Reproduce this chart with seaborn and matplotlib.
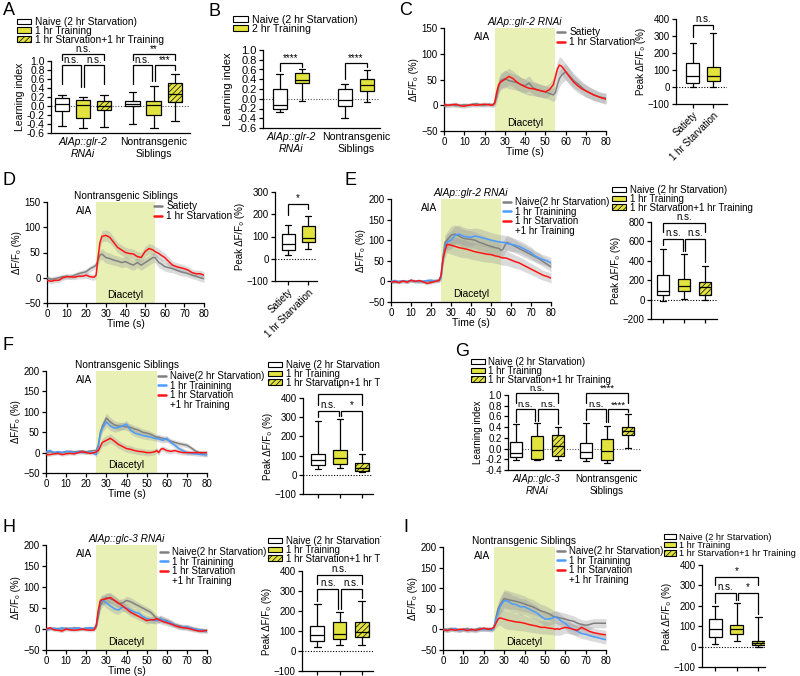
import numpy as np
import pandas as pd
import matplotlib
matplotlib.use("Agg")
import matplotlib.pyplot as plt
import seaborn as sns
from matplotlib.patches import Patch, Rectangle
from matplotlib.lines import Line2D
from matplotlib.colors import to_rgba

sns.set_theme(style="ticks")
plt.rcParams["font.family"] = ["Liberation Sans", "DejaVu Sans"]
plt.rcParams.update({
    "axes.linewidth": 0.9, "xtick.major.width": 0.9, "ytick.major.width": 0.9,
    "xtick.major.size": 3, "ytick.major.size": 3,
    "xtick.major.pad": 1.5, "ytick.major.pad": 1.5,
    "hatch.linewidth": 0.5, "axes.labelpad": 1.5,
    "text.color": "black", "axes.labelcolor": "black", "axes.edgecolor": "black",
    "xtick.color": "black", "ytick.color": "black",
})

# ---------------- data ----------------
TIME = [0, 2, 4, 6, 8, 10, 12, 14, 16, 18, 20, 22, 24,
        25, 26, 27, 28,
        30, 32, 34, 36, 38, 40, 42, 44, 46, 48, 50, 52, 54,
        55, 56, 57, 58,
        60, 62, 64, 66, 68, 70, 72, 74, 76, 78, 80]

C_SATIETY = [-2, 0, 1, -1, 0, 1, 0, 2, 3, 1, 0, 2, 1, 3, 15, 35, 48,
             52, 48, 46, 44, 40, 38, 43, 34, 30, 28, 26, 23, 20, 25, 40, 52, 58,
             65, 57, 48, 42, 35, 28, 24, 20, 17, 15, 14]
C_STARV = [2, 0, 1, 2, -1, -2, 0, 1, 0, 1, 2, 1, 0, 5, 25, 40, 45,
           50, 56, 52, 45, 40, 36, 33, 32, 30, 28, 26, 30, 40, 55, 70, 78, 76,
           66, 55, 45, 38, 32, 28, 24, 20, 17, 14, 12]
C_SEM = [4, 4, 4, 4, 4, 4, 4, 4, 4, 4, 4, 4, 4, 6, 10, 14, 15,
         16, 16, 15, 15, 14, 14, 14, 13, 13, 12, 12, 12, 13, 14, 15, 16, 16,
         16, 15, 14, 13, 12, 12, 11, 11, 10, 10, 10]

D_SATIETY = [0, -3, -2, 0, 2, 3, 2, 5, 8, 10, 12, 18, 22, 25, 35, 45, 47,
             40, 38, 35, 33, 30, 32, 28, 25, 30, 25, 30, 35, 40, 40, 35, 30, 28,
             22, 20, 18, 15, 12, 10, 8, 5, 3, 0, -2]
D_STARV = [-5, -7, -5, -5, 0, 2, 2, 1, 3, 3, 5, 2, 1, 5, 40, 70, 82,
           84, 80, 70, 60, 55, 50, 48, 47, 42, 40, 52, 58, 55, 52, 50, 48, 45,
           40, 32, 25, 22, 20, 18, 15, 10, 8, 8, 5]
D_SEM = [5, 5, 5, 5, 5, 5, 5, 5, 5, 5, 6, 6, 6, 7, 9, 10, 11,
         11, 11, 10, 10, 10, 10, 10, 10, 10, 10, 10, 10, 10, 10, 10, 10, 10,
         9, 9, 8, 8, 8, 7, 7, 7, 7, 7, 7]

E_NAIVE = [0, -2, 0, 1, -1, 2, 0, 1, 0, 1, 0, 2, 3, 10, 60, 95, 100,
           112, 115, 110, 105, 103, 102, 100, 95, 92, 88, 85, 82, 80, 75, 78, 88, 95,
           90, 85, 80, 75, 70, 65, 60, 55, 48, 42, 35]
E_TRAIN = [0, 2, -1, 1, 0, 2, 1, -1, 0, 2, 3, 1, 2, 8, 50, 85, 95,
           100, 112, 115, 110, 108, 107, 110, 108, 105, 103, 100, 98, 96, 95, 95, 94, 92,
           90, 88, 85, 80, 75, 70, 62, 57, 53, 50, 45]
E_STARV = [-2, 0, -3, 1, -2, 3, 0, 2, -1, -5, -3, 0, 2, 15, 55, 75, 90,
           88, 85, 82, 80, 78, 75, 72, 70, 68, 66, 65, 62, 60, 58, 57, 57, 56,
           52, 48, 45, 40, 35, 30, 25, 20, 15, 12, 8]
E_SEM = [4, 4, 4, 4, 4, 4, 4, 4, 4, 4, 4, 4, 4, 8, 14, 18, 20,
         22, 22, 22, 22, 21, 21, 20, 20, 20, 19, 19, 18, 18, 18, 18, 18, 18,
         17, 16, 15, 15, 14, 14, 13, 13, 12, 12, 12]

F_NAIVE = [0, 2, 0, 1, 0, 2, 3, 2, 3, 4, 2, 4, 5, 5, 20, 50, 65,
           85, 75, 68, 65, 65, 63, 62, 58, 55, 50, 48, 45, 40, 38, 38, 36, 35,
           32, 28, 25, 22, 20, 18, 12, 5, 0, -3, -5]
F_TRAIN = [2, 5, 0, 2, 0, 3, 2, 0, 2, 0, 0, 2, -3, -5, 15, 45, 60,
           75, 65, 60, 62, 65, 70, 55, 48, 45, 42, 40, 38, 35, 35, 33, 32, 30,
           35, 25, 18, 10, 5, 0, -2, -3, -4, -5, -5]
F_STARV = [-5, -5, -3, -2, -5, -3, -2, -3, 0, 2, 0, -2, 0, 2, 5, 15, 25,
           30, 35, 28, 20, 15, 10, 8, 5, 3, 2, 0, 0, 2, 5, 0, 8, 10,
           5, 3, 5, 2, 0, 0, 0, 0, 0, 0, 0]
F_SEM = [4, 4, 4, 4, 4, 4, 4, 4, 4, 4, 4, 4, 4, 5, 7, 9, 10,
         12, 11, 10, 10, 9, 9, 9, 8, 8, 8, 8, 7, 7, 7, 7, 7, 7,
         7, 6, 6, 6, 6, 6, 5, 5, 5, 5, 5]

H_NAIVE = [0, 2, 0, 1, 0, 2, 0, 3, 1, 0, 2, 1, 2, 5, 30, 55, 65,
           75, 72, 68, 60, 62, 68, 65, 60, 55, 50, 45, 40, 30, 25, 22, 25, 22,
           20, 15, 10, 8, 5, 5, 2, 0, -2, -3, -5]
H_TRAIN = [-2, 0, 2, 0, 3, 0, 2, 0, 3, 0, 2, 3, 2, 8, 40, 65, 70,
           62, 55, 48, 45, 52, 50, 45, 40, 38, 30, 25, 22, 20, 20, 22, 25, 22,
           18, 15, 10, 5, 5, 5, 2, 0, -2, -3, -5]
H_STARV = [0, 3, -2, -3, -5, 0, -2, -3, -2, 0, -2, -3, -2, 10, 45, 68, 70,
           72, 75, 68, 62, 55, 48, 40, 35, 30, 25, 20, 22, 22, 25, 22, 20, 18,
           15, 12, 8, 5, 3, 2, 0, -3, -5, -5, -3]
H_SEM = [4, 4, 4, 4, 4, 4, 4, 4, 4, 4, 4, 4, 4, 5, 8, 10, 11,
         12, 12, 11, 10, 10, 10, 10, 9, 9, 8, 8, 8, 8, 8, 8, 8, 8,
         7, 7, 6, 6, 6, 6, 6, 5, 5, 5, 5]

I_NAIVE = [0, 0, 2, 0, -2, 0, 2, -2, 0, 3, 0, 2, 0, 5, 30, 50, 60,
           75, 72, 70, 68, 65, 62, 58, 55, 50, 45, 42, 38, 32, 30, 30, 28, 27,
           25, 22, 20, 15, 12, 10, 12, 15, 15, 15, 15]
I_TRAIN = [0, -2, 0, 2, -3, 0, -2, 0, -3, 0, 0, 0, -2, 5, 25, 40, 55,
           70, 68, 62, 60, 55, 55, 50, 45, 40, 32, 25, 25, 28, 30, 28, 25, 20,
           15, 5, 0, -5, -10, -12, -15, -18, -20, -23, -25]
I_STARV = [0, -3, 0, -2, 0, 0, -3, 0, -2, 0, 3, 0, 2, 5, 15, 25, 28,
           25, 22, 20, 18, 17, 15, 12, 10, 8, 5, 5, 3, 2, 0, 2, 0, 2,
           5, 3, 0, -2, 5, 0, -5, -8, -10, -12, -13]
I_SEM = [5, 5, 5, 5, 5, 5, 5, 5, 5, 5, 5, 5, 5, 7, 12, 16, 18,
         22, 22, 21, 20, 20, 19, 18, 18, 17, 16, 16, 15, 15, 15, 15, 15, 15,
         14, 14, 13, 13, 12, 12, 12, 11, 11, 11, 11]

# box summaries: [min, q1, median, q3, max]
A_GLR2_NAIVE = [-0.45, -0.10, 0.05, 0.17, 0.25]
A_GLR2_TRAIN = [-0.48, -0.27, 0.03, 0.13, 0.20]
A_GLR2_STARV = [-0.46, -0.08, 0.00, 0.12, 0.25]
A_NONTG_NAIVE = [-0.40, 0.00, 0.05, 0.12, 0.31]
A_NONTG_TRAIN = [-0.49, -0.20, 0.03, 0.12, 0.44]
A_NONTG_STARV = [-0.33, 0.10, 0.27, 0.52, 0.72]

B_GLR2_NAIVE = [-0.27, -0.22, -0.12, 0.20, 0.50]
B_GLR2_TRAIN = [-0.05, 0.33, 0.38, 0.52, 0.62]
B_NONTG_NAIVE = [-0.40, -0.15, -0.02, 0.20, 0.30]
B_NONTG_TRAIN = [-0.06, 0.16, 0.28, 0.40, 0.59]

C_BOX_SATIETY = [0, 22, 65, 140, 260]
C_BOX_STARV = [0, 35, 62, 115, 320]
D_BOX_SATIETY = [15, 38, 68, 110, 150]
D_BOX_STARV = [45, 75, 95, 148, 190]
E_BOX_NAIVE = [-10, 45, 85, 250, 520]
E_BOX_TRAIN = [5, 85, 140, 210, 475]
E_BOX_STARV = [0, 45, 125, 180, 345]
F_BOX_NAIVE = [30, 50, 75, 110, 280]
F_BOX_TRAIN = [38, 55, 85, 130, 290]
F_BOX_STARV = [15, 20, 35, 60, 110]

G_GLC3_NAIVE = [-0.22, -0.15, -0.08, 0.12, 0.45]
G_GLC3_TRAIN = [-0.22, -0.20, -0.03, 0.23, 0.47]
G_GLC3_STARV = [-0.22, -0.13, 0.05, 0.25, 0.41]
G_NONTG_NAIVE = [-0.24, -0.18, -0.07, 0.11, 0.48]
G_NONTG_TRAIN = [-0.26, -0.22, -0.05, 0.17, 0.43]
G_NONTG_STARV = [0.02, 0.25, 0.33, 0.40, 0.64]

H_BOX_NAIVE = [20, 50, 80, 125, 235]
H_BOX_TRAIN = [28, 62, 85, 145, 195]
H_BOX_STARV = [30, 70, 95, 145, 250]
I_BOX_NAIVE = [15, 45, 85, 135, 197]
I_BOX_TRAIN = [28, 60, 85, 105, 215]
I_BOX_STARV = [0, 10, 18, 28, 145]

COND3 = ["Naive (2 hr Starvation)", "1 hr Training", "1 hr Starvation+1 hr Training"]
COND_B = ["Naive (2 hr Starvation)", "2 hr Training"]
COND_C = ["Satiety", "1 hr Starvation"]
LINE3 = ["Naive(2 hr Starvation)", "1 hr Trainining", "1 hr Starvation", "+1 hr Training"]
GROUPS_GLR2 = ["AIAp::glr-2\nRNAi", "Nontransgenic\nSiblings"]
GROUPS_GLC3 = ["AIAp::glc-3\nRNAi", "Nontransgenic\nSiblings"]

# ---------------- styling ----------------
W, H = 800, 676
WHITE = "#ffffff"
YEL = "#e3e33f"
YEL_H = "#e3e343"
ODOR = "#e8f0b6"
BAND = "#9a9a9a"
GRAY = "#808080"
RED = "#ff1414"
BLUE = "#4a9cff"

fig = plt.figure(figsize=(8, 6.76), dpi=100)


def add_ax(x0, y0, x1, y1):
    return fig.add_axes([x0 / W, 1 - y1 / H, (x1 - x0) / W, (y1 - y0) / H])


def letter(x, y, s):
    fig.text(x / W, 1 - y / H, s, fontsize=13, va="top", ha="left")


def fig_legend(handles, labels, x, y, fs=7, ls=0.0, hl=1.4, hh=0.5, htp=0.4):
    return fig.legend(handles, labels, loc="upper left",
                      bbox_to_anchor=(x / W, 1 - y / H), bbox_transform=fig.transFigure,
                      frameon=False, fontsize=fs, borderpad=0, borderaxespad=0,
                      labelspacing=ls, handlelength=hl, handleheight=hh,
                      handletextpad=htp)


def box_handles(n):
    hs = [Patch(facecolor=WHITE, edgecolor="black", lw=0.8),
          Patch(facecolor=YEL, edgecolor="black", lw=0.8),
          Patch(facecolor=YEL, edgecolor="black", lw=0.8, hatch="//////")]
    return hs[:n]


def line_handles(colors):
    hs = [Line2D([], [], color=c, lw=1.8) for c in colors]
    hs.append(Line2D([], [], color="none"))
    return hs


def bracket(ax, x1, x2, y, l1, l2, text, fs=7, tpad=0.0):
    ax.plot([x1, x1, x2, x2], [l1, y, y, l2], color="black", lw=0.9,
            clip_on=False, solid_joinstyle="miter", zorder=5)
    ax.text((x1 + x2) / 2, y + tpad, text, ha="center", va="bottom",
            fontsize=fs, clip_on=False)


def trace_panel(rect, series, sem, ylim, yticks, title=None, italic=False,
                xlabel=True, fs=7):
    ax = add_ax(*rect)
    ax.axvspan(25, 55, color=ODOR, lw=0, zorder=0)
    e = np.asarray(sem, float)
    for vals, color in series:
        v = np.asarray(vals, float)
        ax.fill_between(TIME, v - e, v + e, color=BAND, alpha=0.35, lw=0, zorder=1)
    for vals, color in series:
        sns.lineplot(x=TIME, y=vals, color=color, lw=1.1, ax=ax, zorder=3)
    ax.set_xlim(0, 80)
    ax.set_ylim(*ylim)
    ax.set_xticks(range(0, 81, 10))
    ax.set_yticks(yticks)
    ax.tick_params(labelsize=fs)
    ax.set_ylabel("ΔF/F₀ (%)", fontsize=fs)
    if xlabel:
        ax.set_xlabel("Time (s)", fontsize=fs + 0.5, labelpad=-0.5)
    else:
        ax.set_xlabel("")
    ax.text(19, 0.96, "AIA", transform=ax.get_xaxis_transform(), ha="center",
            va="top", fontsize=fs + 0.3)
    ax.text(40, 0.075, "Diacetyl", transform=ax.get_xaxis_transform(),
            ha="center", va="center", fontsize=fs + 0.3)
    if title:
        ax.set_title(title, fontsize=fs + 0.3, style="italic" if italic else "normal",
                     pad=2)
    sns.despine(ax=ax)
    return ax


def style_hatch(ax):
    target = np.array(to_rgba(YEL_H))
    for p in ax.patches:
        if np.allclose(np.array(p.get_facecolor()), target, atol=0.004):
            p.set_hatch("//////")


def single_box(rect, names, stats, colors, ylim, yticks, xlim, width,
               fs=7, rot_labels=False):
    ax = add_ax(*rect)
    rows = []
    for n, s in zip(names, stats):
        for v in s:
            rows.append((n, v))
    df = pd.DataFrame(rows, columns=["cond", "value"])
    sns.boxplot(data=df, x="cond", y="value", hue="cond", order=names,
                hue_order=names, palette=dict(zip(names, colors)),
                whis=(0, 100), width=width, linecolor="black", linewidth=0.9,
                saturation=1, legend=False, ax=ax, dodge=False)
    style_hatch(ax)
    ax.axhline(0, ls=(0, (1, 1.5)), color="black", lw=0.8, zorder=0)
    ax.set_xlim(*xlim)
    ax.set_ylim(*ylim)
    ax.set_yticks(yticks)
    ax.set_xlabel("")
    ax.set_ylabel("Peak ΔF/F₀ (%)", fontsize=fs)
    ax.tick_params(labelsize=fs)
    ax.set_xticks(range(len(names)))
    if rot_labels:
        ax.set_xticklabels(names, rotation=45, ha="right", rotation_mode="anchor",
                           fontsize=fs)
    else:
        ax.set_xticklabels([])
    sns.despine(ax=ax)
    return ax


def group_box(rect, groups, conds, stats, colors, ylim, yticks, xlim, width, gap,
              fs=7.5, xfs=7.5, labelpad=1.5):
    ax = add_ax(*rect)
    rows = []
    for g, per in zip(groups, stats):
        for c, s in zip(conds, per):
            for v in s:
                rows.append((g, c, v))
    df = pd.DataFrame(rows, columns=["group", "cond", "value"])
    sns.boxplot(data=df, x="group", y="value", hue="cond", order=groups,
                hue_order=conds, palette=dict(zip(conds, colors)),
                whis=(0, 100), width=width, gap=gap, linecolor="black",
                linewidth=0.9, saturation=1, legend=False, ax=ax)
    style_hatch(ax)
    ax.axhline(0, ls=(0, (1, 1.5)), color="#555555", lw=0.8, zorder=0)
    ax.set_xlim(*xlim)
    ax.set_ylim(*ylim)
    ax.set_yticks(yticks)
    ax.set_yticklabels([f"{v:.1f}" for v in yticks])
    ax.set_xlabel("")
    ax.set_ylabel("Learning index", fontsize=fs, labelpad=labelpad)
    ax.tick_params(axis="y", labelsize=fs)
    ax.tick_params(axis="x", length=0, pad=3, labelsize=xfs)
    labs = ax.get_xticklabels()
    labs[0].set_style("italic")
    sns.despine(ax=ax)
    return ax


# ---------------- Panel A ----------------
letter(3, 2, "A")
wA = 0.89
oA = wA / 3
axA = group_box((51, 61, 190, 133), GROUPS_GLR2, COND3,
                [[A_GLR2_NAIVE, A_GLR2_TRAIN, A_GLR2_STARV],
                 [A_NONTG_NAIVE, A_NONTG_TRAIN, A_NONTG_STARV]],
                [WHITE, YEL, YEL_H], (-0.6, 1.0), np.arange(-0.6, 1.01, 0.2),
                (-0.45, 1.51), wA, 0.3, fs=7.5, xfs=7.5)
fig_legend(box_handles(3), COND3, 17, 17, fs=7.3, ls=-0.12)
bracket(axA, -oA, -0.02, 0.92, 0.50, 0.42, "n.s.")
bracket(axA, 0.02, oA, 0.92, 0.42, 0.50, "n.s.")
bracket(axA, -oA, oA, 1.16, 1.02, 1.02, "n.s.")
bracket(axA, 1 - oA, 0.98, 0.92, 0.50, 0.56, "n.s.")
bracket(axA, 1.02, 1 + oA, 0.92, 0.56, 0.80, "***")
bracket(axA, 1 - oA, 1 + oA, 1.16, 1.02, 1.02, "**")

# ---------------- Panel B ----------------
letter(208, 3, "B")
wB = 0.68
oB = wB / 4
axB = group_box((263, 50, 380, 128), GROUPS_GLR2, COND_B,
                [[B_GLR2_NAIVE, B_GLR2_TRAIN], [B_NONTG_NAIVE, B_NONTG_TRAIN]],
                [WHITE, YEL], (-0.6, 1.0), np.arange(-0.6, 1.01, 0.2),
                (-0.43, 1.37), wB, 0.37, fs=8, xfs=7.6, labelpad=3)
fig_legend(box_handles(2), COND_B, 233, 15, fs=7.6, ls=-0.12)
bracket(axB, -oB, oB, 0.73, 0.56, 0.66, "****")
bracket(axB, 1 - oB, 1 + oB, 0.73, 0.40, 0.66, "****")

# ---------------- Panel C ----------------
letter(399, 2, "C")
trace_panel((444, 28, 606, 131), [(C_SATIETY, GRAY), (C_STARV, RED)], C_SEM,
            (-50, 150), range(-50, 151, 50), title="AIAp::glr-2 RNAi", italic=True)
fig_legend([Line2D([], [], color=GRAY, lw=1.8), Line2D([], [], color=RED, lw=1.8)],
           COND_C, 557, 27, fs=7.3, ls=0.0, hl=0.8)
axCb = single_box((676, 19, 727, 104), COND_C, [C_BOX_SATIETY, C_BOX_STARV],
                  [WHITE, YEL], (-100, 400), range(-100, 401, 100), (-0.82, 1.68),
                  0.63, rot_labels=True)
bracket(axCb, 0, 1, 365, 295, 340, "n.s.", tpad=5)

# ---------------- Panel D ----------------
letter(3, 172, "D")
trace_panel((47, 202, 204, 303), [(D_SATIETY, GRAY), (D_STARV, RED)], D_SEM,
            (-50, 150), range(-50, 151, 50), title="Nontransgenic Siblings")
fig_legend([Line2D([], [], color=GRAY, lw=1.8), Line2D([], [], color=RED, lw=1.8)],
           COND_C, 154, 201, fs=7.3, ls=0.0, hl=0.8)
axDb = single_box((275, 192, 317, 281), COND_C, [D_BOX_SATIETY, D_BOX_STARV],
                  [WHITE, YEL], (-100, 300), range(-100, 301, 100), (-0.65, 1.45),
                  0.65, rot_labels=True)
bracket(axDb, 0, 1, 246, 197, 222, "*", tpad=2)

# ---------------- Panel E ----------------
letter(345, 172, "E")
trace_panel((391, 199, 551, 302), [(E_NAIVE, GRAY), (E_TRAIN, BLUE), (E_STARV, RED)],
            E_SEM, (-50, 200), range(-50, 201, 50), title="AIAp::glr-2 RNAi",
            italic=True)
fig_legend(line_handles([GRAY, BLUE, RED]), LINE3, 503, 197, fs=7, ls=-0.05, hl=0.8)
axEb = single_box((651, 222, 717, 319), COND3, [E_BOX_NAIVE, E_BOX_TRAIN, E_BOX_STARV],
                  [WHITE, YEL, YEL_H], (-200, 800), range(-200, 801, 200),
                  (-0.57, 2.57), 0.6)
fig_legend(box_handles(3), COND3, 612, 185, fs=7, ls=-0.12)
bracket(axEb, 0, 0.95, 626, 560, 505, "n.s.", tpad=10)
bracket(axEb, 1.05, 2, 626, 505, 390, "n.s.", tpad=10)
bracket(axEb, 0, 2, 790, 700, 700, "n.s.", tpad=10)

# ---------------- Panel F ----------------
letter(3, 337, "F")
trace_panel((46, 371, 207, 473), [(F_NAIVE, GRAY), (F_TRAIN, BLUE), (F_STARV, RED)],
            F_SEM, (-50, 200), range(-50, 201, 50), title="Nontransgenic Siblings")
fig_legend(line_handles([GRAY, BLUE, RED]), LINE3, 158, 371, fs=7, ls=-0.05, hl=0.8)
axFb = single_box((303, 398, 373, 494), COND3, [F_BOX_NAIVE, F_BOX_TRAIN, F_BOX_STARV],
                  [WHITE, YEL, YEL_H], (-100, 400), range(-100, 401, 100),
                  (-0.68, 2.5), 0.6)
fig_legend(box_handles(3), COND3, 268, 360, fs=7, ls=-0.12)
bracket(axFb, 0, 0.95, 333, 300, 305, "n.s.", tpad=5)
bracket(axFb, 1.05, 2, 333, 305, 130, "*", tpad=5)
bracket(axFb, 0, 2, 420, 365, 365, "*", tpad=5)

# ---------------- Panel G ----------------
letter(455, 343, "G")
wG = 0.9
oG = wG / 3
axG = group_box((508, 395, 640, 470), GROUPS_GLC3, COND3,
                [[G_GLC3_NAIVE, G_GLC3_TRAIN, G_GLC3_STARV],
                 [G_NONTG_NAIVE, G_NONTG_TRAIN, G_NONTG_STARV]],
                [WHITE, YEL, YEL_H], (-0.4, 1.0), np.arange(-0.4, 1.01, 0.2),
                (-0.41, 1.47), wG, 0.43, fs=7, xfs=7)
fig_legend(box_handles(3), COND3, 471, 357, fs=7, ls=-0.12)
bracket(axG, -oG, -0.02, 0.73, 0.50, 0.52, "n.s.", fs=6.8)
bracket(axG, 0.02, oG, 0.73, 0.52, 0.46, "n.s.", fs=6.8)
bracket(axG, -oG, oG, 1.04, 0.86, 0.86, "n.s.", fs=6.8)
bracket(axG, 1 - oG, 0.98, 0.73, 0.53, 0.50, "n.s.", fs=6.8)
bracket(axG, 1.02, 1 + oG, 0.73, 0.50, 0.68, "****", fs=6.8)
bracket(axG, 1 - oG, 1 + oG, 1.04, 0.86, 0.86, "****", fs=6.8)

# ---------------- Panel H ----------------
letter(3, 519, "H")
trace_panel((46, 545, 207, 650), [(H_NAIVE, GRAY), (H_TRAIN, BLUE), (H_STARV, RED)],
            H_SEM, (-50, 200), range(-50, 201, 50), title="AIAp::glc-3 RNAi",
            italic=True)
fig_legend(line_handles([GRAY, BLUE, RED]), LINE3, 160, 547, fs=7, ls=-0.05, hl=0.8)
axHb = single_box((302, 571, 373, 671), COND3, [H_BOX_NAIVE, H_BOX_TRAIN, H_BOX_STARV],
                  [WHITE, YEL, YEL_H], (-100, 400), range(-100, 401, 100),
                  (-0.68, 2.5), 0.6)
fig_legend(box_handles(3), COND3, 268, 536, fs=7, ls=-0.12)
bracket(axHb, 0, 0.95, 310, 250, 210, "n.s.", tpad=4)
bracket(axHb, 1.05, 2, 310, 210, 265, "n.s.", tpad=4)
bracket(axHb, 0, 2, 380, 335, 335, "n.s.", tpad=4)

# ---------------- Panel I ----------------
letter(403, 519, "I")
trace_panel((443, 547, 606, 650), [(I_NAIVE, GRAY), (I_TRAIN, BLUE), (I_STARV, RED)],
            I_SEM, (-50, 200), range(-50, 201, 50), title="Nontransgenic Siblings",
            xlabel=False)
fig_legend(line_handles([GRAY, BLUE, RED]), LINE3, 557, 546, fs=7, ls=-0.05, hl=0.8)
axIb = single_box((702, 565, 765, 667), COND3, [I_BOX_NAIVE, I_BOX_TRAIN, I_BOX_STARV],
                  [WHITE, YEL, YEL_H], (-100, 400), range(-100, 401, 100),
                  (-0.6, 2.3), 0.6)
fig_legend(box_handles(3), COND3, 664, 533, fs=6.6, ls=-0.1, hl=1.3, htp=0.3)
bracket(axIb, 0, 0.95, 263, 212, 230, "n.s.", tpad=5)
bracket(axIb, 1.05, 2, 263, 230, 160, "*", tpad=5)
bracket(axIb, 0, 2, 341, 300, 300, "*", tpad=5)

# panel boundaries: legend text of F and H is cut by the next panel
for (x0, y0, x1, y1) in [(380, 355, 452, 392), (380, 537, 419, 568)]:
    fig.patches.append(Rectangle((x0 / W, 1 - y1 / H), (x1 - x0) / W, (y1 - y0) / H,
                                 transform=fig.transFigure, facecolor="white",
                                 edgecolor="none", zorder=20))

fig.savefig("out.png", dpi=100, facecolor="white")
